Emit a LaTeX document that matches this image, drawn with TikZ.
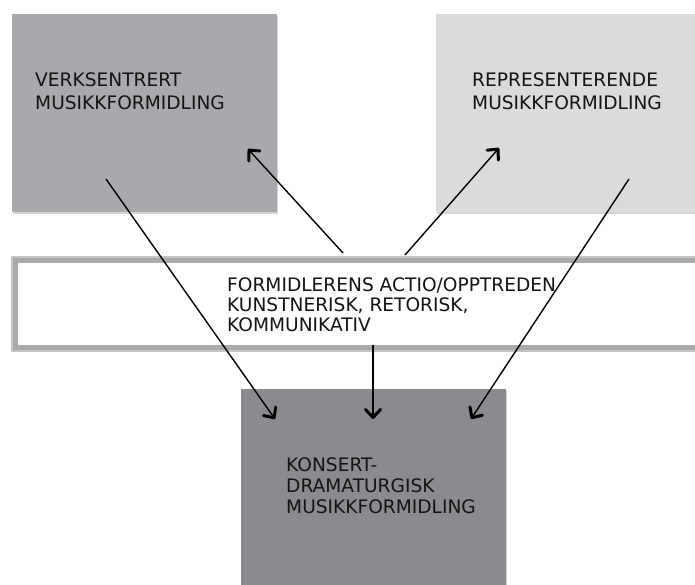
\documentclass[tikz,border=0pt]{standalone}
\usepackage{fontspec}
\setmainfont{DejaVu Sans}
\usetikzlibrary{arrows.meta,shadows}

\definecolor{boxmid}{HTML}{A7A9AC}
\definecolor{boxlight}{HTML}{DADBDD}
\definecolor{boxdark}{HTML}{898B8E}
\definecolor{bandrim}{HTML}{A9AAAB}
\definecolor{bandsheen}{HTML}{C4C5C6}
\definecolor{inktext}{HTML}{141414}

\begin{document}
\begin{tikzpicture}[x=1pt,y=-1pt,
  panel/.style={anchor=north west, inner sep=0pt, draw=none,
    drop shadow={shadow xshift=1pt, shadow yshift=-2pt, opacity=0.35}},
  caption/.style={anchor=north west, align=left, inner sep=0pt,
    text=inktext, font=\fontsize{18.6}{#1}\selectfont},
  link/.style={line width=1.4pt,
    -{Straight Barb[length=8pt,width=15pt,line width=3pt,round]}}]

\useasboundingbox (0,0) rectangle (695,585);

% the three content boxes
\node[panel, fill=boxmid, minimum width=265pt, minimum height=198pt] (work) at (12,14) {};
\node[panel, fill=boxlight, minimum width=280pt, minimum height=198pt] (repr) at (436,14) {};
\node[panel, fill=boxdark, minimum width=265pt, minimum height=215pt] (conc) at (241,389) {};

% the middle band: thick grey rim with a lighter sheen along it
\node[anchor=north west, inner sep=0pt, draw=bandrim, line width=6pt, fill=white,
  minimum width=710pt, minimum height=88pt,
  drop shadow={shadow xshift=1pt, shadow yshift=-2pt, opacity=0.3}] (band) at (12,257) {};
\draw[bandsheen, line width=1.5pt] (band.north west) rectangle (band.south east);

% texts
\node[caption=23pt] (worktxt) at (35,72) {VERKSENTRERT\\MUSIKKFORMIDLING};
\node[caption=23pt] (reprtxt) at (472,72) {REPRESENTERENDE\\MUSIKKFORMIDLING};
\node[caption=20pt] (bandtxt) at (227,277) {FORMIDLERENS ACTIO/OPPTREDEN\\KUNSTNERISK, RETORISK,\\KOMMUNIKATIV};
\node[caption=21pt] (conctxt) at (286,457) {KONSERT-\\DRAMATURGISK\\MUSIKKFORMIDLING};

% arrow end points
\coordinate (bandL) at (343,253);
\coordinate (bandR) at (405,255);
\coordinate (bandB) at (373,345);
\coordinate (workIn) at (248,149);
\coordinate (reprIn) at (499,148);
\coordinate (workOut) at (106,179);
\coordinate (reprOut) at (629,179);
\coordinate (concL) at (275,419);
\coordinate (concM) at (373,419);
\coordinate (concR) at (471,419);

% connectors
\draw[link] (bandL) -- (workIn);
\draw[link] (bandR) -- (reprIn);
\draw[link] (workOut) -- (concL);
\draw[link] (reprOut) -- (concR);
\draw[link] (bandB) -- (concM);
\end{tikzpicture}
\end{document}
